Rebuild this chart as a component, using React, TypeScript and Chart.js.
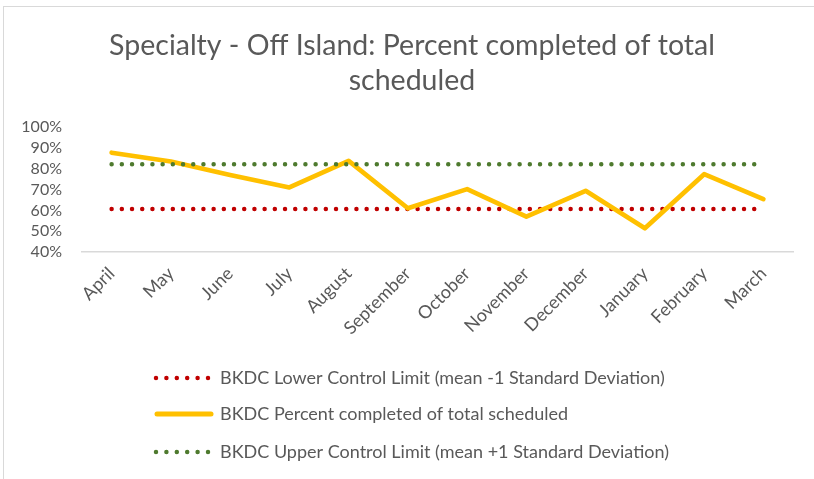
import React, { useEffect, useRef } from "react";
import { Chart, registerables } from "chart.js";

Chart.register(...registerables);

const titleLines = ["Specialty - Off Island: Percent completed of total", "scheduled"];

const months = [
  "April", "May", "June", "July", "August", "September",
  "October", "November", "December", "January", "February", "March",
];

const lowerLabel = "BKDC Lower Control Limit (mean -1 Standard Deviation)";
const percentLabel = "BKDC Percent completed of total scheduled";
const upperLabel = "BKDC Upper Control Limit (mean +1 Standard Deviation)";

const lowerLimit = [60.6, 60.6, 60.6, 60.6, 60.6, 60.6, 60.6, 60.6, 60.6, 60.6, 60.6, 60.6];
const percentCompleted = [87.7, 83.5, 77.0, 71.0, 83.8, 61.0, 70.2, 57.0, 69.4, 51.4, 77.4, 65.4];
const upperLimit = [82.2, 82.2, 82.2, 82.2, 82.2, 82.2, 82.2, 82.2, 82.2, 82.2, 82.2, 82.2];

const yTicks = [40, 50, 60, 70, 80, 90, 100];

const FONT = "Lato, 'Open Sans', sans-serif";
const TEXT = "#595959";
const RED = "#C00000";
const YELLOW = "#FFC000";
const GREEN = "#4E7A2E";

const titleShiftPlugin = {
  id: "titleShift",
  afterLayout(chart: any) {
    const t = chart.titleBlock;
    if (t) {
      t.left += 31;
      t.width -= 31;
    }
  },
};

const legendPlugin = {
  id: "stackedLegend",
  afterDraw(chart: any) {
    const ctx = chart.ctx as CanvasRenderingContext2D;
    const rows = [
      { ds: 0, y: 378 },
      { ds: 1, y: 414 },
      { ds: 2, y: 452 },
    ];
    ctx.save();
    rows.forEach((r) => {
      const d = chart.data.datasets[r.ds];
      ctx.beginPath();
      ctx.strokeStyle = d.borderColor;
      ctx.lineCap = "round";
      if (d.borderDash && d.borderDash.length) {
        ctx.lineWidth = 4.5;
        ctx.setLineDash([0, 10.4]);
        ctx.moveTo(156, r.y);
        ctx.lineTo(209, r.y);
      } else {
        ctx.lineWidth = 5;
        ctx.setLineDash([]);
        ctx.moveTo(157, r.y);
        ctx.lineTo(211, r.y);
      }
      ctx.stroke();
      ctx.setLineDash([]);
      ctx.fillStyle = TEXT;
      ctx.font = `18px ${FONT}`;
      ctx.textBaseline = "middle";
      ctx.textAlign = "left";
      ctx.fillText(d.label, 220, r.y);
    });
    ctx.restore();
  },
};

export default function App() {
  const ref = useRef<HTMLCanvasElement | null>(null);

  useEffect(() => {
    if (!ref.current) return;
    const chart = new Chart(ref.current, {
      type: "line",
      data: {
        labels: months,
        datasets: [
          {
            label: lowerLabel,
            data: lowerLimit,
            borderColor: RED,
            backgroundColor: RED,
            borderWidth: 4.5,
            borderDash: [0, 10.2],
            borderCapStyle: "round",
            pointRadius: 0,
            order: 3,
          },
          {
            label: percentLabel,
            data: percentCompleted,
            borderColor: YELLOW,
            backgroundColor: YELLOW,
            borderWidth: 4.7,
            borderCapStyle: "round",
            borderJoinStyle: "round",
            pointRadius: 0,
            tension: 0,
            order: 2,
          },
          {
            label: upperLabel,
            data: upperLimit,
            borderColor: GREEN,
            backgroundColor: GREEN,
            borderWidth: 4.5,
            borderDash: [0, 10.2],
            borderCapStyle: "round",
            pointRadius: 0,
            order: 1,
          },
        ],
      },
      options: {
        responsive: false,
        animation: false,
        events: [],
        layout: { padding: { left: 0, right: 21, top: 0, bottom: 137 } },
        plugins: {
          legend: { display: false },
          tooltip: { enabled: false },
          title: {
            display: true,
            text: titleLines,
            color: TEXT,
            font: { family: FONT, size: 28.5, weight: "normal", lineHeight: 1.23 },
            padding: { top: 28, bottom: 29 },
          },
        },
        scales: {
          x: {
            offset: true,
            grid: { display: false, drawTicks: false },
            border: { display: true, color: "#D9D9D9", width: 1.5 },
            ticks: {
              color: TEXT,
              font: { family: FONT, size: 18 },
              minRotation: 45,
              maxRotation: 45,
              autoSkip: false,
              padding: 11,
            },
            afterFit: (s: any) => {
              s.height = 90;
            },
          },
          y: {
            min: 40,
            max: 100,
            afterBuildTicks: (s: any) => {
              s.ticks = yTicks.map((v) => ({ value: v }));
            },
            grid: { display: false, drawTicks: false },
            border: { display: false },
            ticks: {
              color: TEXT,
              font: { family: FONT, size: 16 },
              padding: 20,
              autoSkip: false,
              callback: (v: any) => `${v}%`,
            },
            afterFit: (s: any) => {
              s.width = 82;
            },
          },
        },
      },
      plugins: [titleShiftPlugin, legendPlugin],
    });
    return () => chart.destroy();
  }, []);

  return (
    <div style={{ position: "fixed", left: 0, top: 0, width: 814, height: 479, background: "#fff", overflow: "hidden" }}>
      <div
        style={{
          position: "absolute",
          left: 3,
          top: 6,
          width: 900,
          height: 600,
          border: "1px solid #D9D9D9",
          boxSizing: "border-box",
        }}
      />
      <canvas ref={ref} width={814} height={479} style={{ position: "absolute", left: 0, top: 0, display: "block" }} />
    </div>
  );
}
